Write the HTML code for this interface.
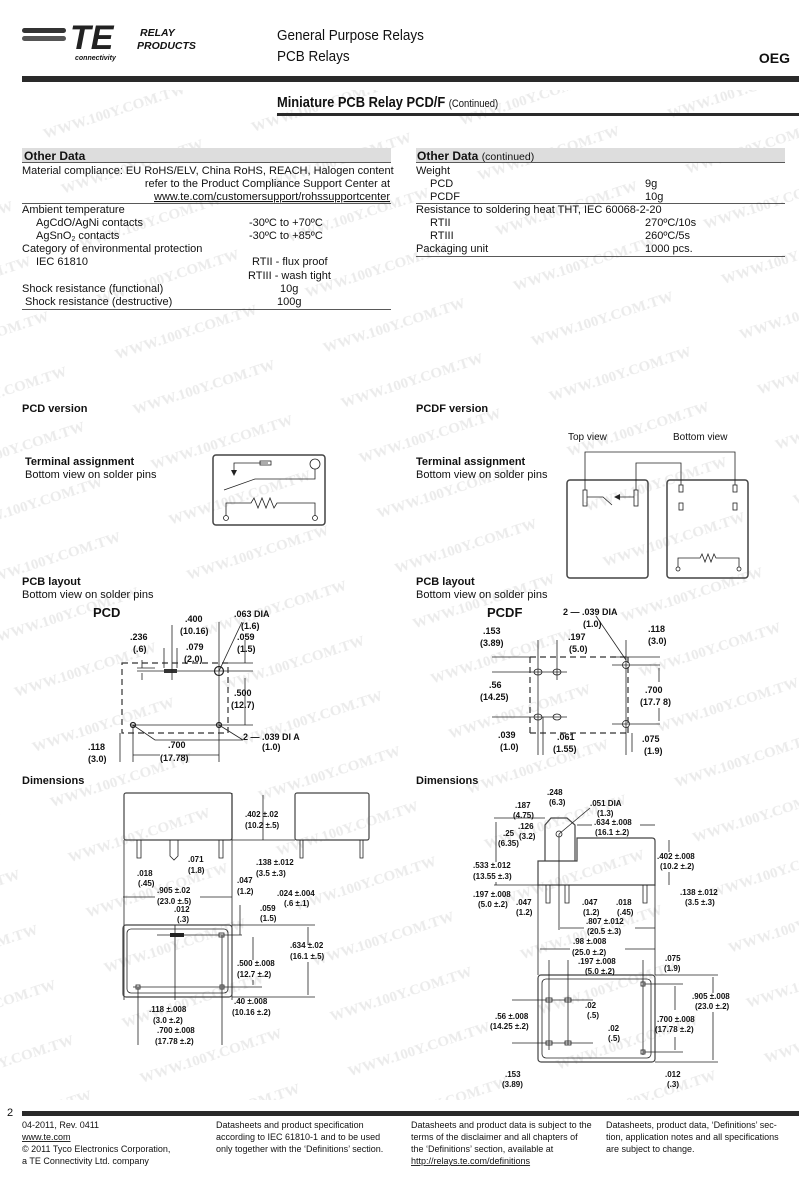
<!DOCTYPE html>
<html><head><meta charset="utf-8"><style>
html,body{margin:0;padding:0;background:#fff}
svg{display:block}
text{font-family:"Liberation Sans",Arial,sans-serif;fill:#111}
.t{font-size:11px}
.b{font-weight:bold}
.d{font-size:8px;font-weight:bold}
.f{font-size:9px}
.ln{stroke:#222;stroke-width:0.8;fill:none}
.dash{stroke:#333;stroke-width:1.2;fill:none;stroke-dasharray:6 4}
.box{stroke:#444;stroke-width:1.5;fill:none}
</style></head><body>
<svg width="799" height="1184" viewBox="0 0 799 1184" xmlns="http://www.w3.org/2000/svg">
<defs>
<pattern id="wm" width="200" height="58" patternUnits="userSpaceOnUse" patternTransform="rotate(-18)">
<text x="0" y="30" style="font-family:'Liberation Serif',serif;font-weight:bold;font-size:15px;fill:#ebebeb">WWW.100Y.COM.TW</text>
</pattern>
</defs>
<rect x="0" y="90" width="799" height="1010" fill="url(#wm)"/>

<rect x="22" y="28" width="44" height="5" rx="2.5" fill="#333"/>
<rect x="22" y="36" width="44" height="5" rx="2.5" fill="#555"/>
<text x="70" y="49" style="font-size:34px;font-weight:bold;font-style:italic;fill:#222">TE</text>
<text x="75" y="60" style="font-size:7px;font-weight:bold;font-style:italic">connectivity</text>
<text x="140" y="36" style="font-size:10.5px;font-weight:bold;font-style:italic">RELAY</text>
<text x="137" y="49" style="font-size:10.5px;font-weight:bold;font-style:italic">PRODUCTS</text>
<text x="277" y="40" style="font-size:15px" transform="translate(277,0) scale(0.9,1) translate(-277,0)">General Purpose Relays</text>
<text x="277" y="61" style="font-size:15px" transform="translate(277,0) scale(0.9,1) translate(-277,0)">PCB Relays</text>
<text x="790" y="63" text-anchor="end" style="font-size:14px;font-weight:bold">OEG</text>
<rect x="22" y="76" width="777" height="6" fill="#2a2a2a"/>
<text x="277" y="107" style="font-size:15px;font-weight:bold" transform="translate(277,0) scale(0.86,1) translate(-277,0)">Miniature PCB Relay PCD/F <tspan style="font-size:11px;font-weight:normal">(Continued)</tspan></text>
<rect x="277" y="113" width="522" height="3" fill="#2a2a2a"/>

<rect x="22" y="148" width="369" height="14" fill="#ddd"/>
<text x="24" y="160" class="b" style="font-size:12px">Other Data</text>
<line x1="22" y1="162.5" x2="391" y2="162.5" class="ln"/>
<text x="22" y="174" class="t">Material compliance: EU RoHS/ELV, China RoHS, REACH, Halogen content</text>
<text x="390" y="187" class="t" text-anchor="end">refer to the Product Compliance Support Center at</text>
<text x="390" y="200" class="t" text-anchor="end" text-decoration="underline">www.te.com/customersupport/rohssupportcenter</text>
<line x1="22" y1="203.5" x2="391" y2="203.5" class="ln"/>
<text x="22" y="213" class="t">Ambient temperature</text>
<text x="36" y="226" class="t">AgCdO/AgNi contacts</text><text x="249" y="226" class="t">-30ºC to +70ºC</text>
<text x="36" y="239" class="t">AgSnO<tspan font-size="7" dy="2">2</tspan><tspan dy="-2"> contacts</tspan></text><text x="249" y="239" class="t">-30ºC to +85ºC</text>
<text x="22" y="252" class="t">Category of environmental protection</text>
<text x="36" y="265" class="t">IEC 61810</text><text x="252" y="265" class="t">RTII - flux proof</text>
<text x="248" y="279" class="t">RTIII - wash tight</text>
<text x="22" y="292" class="t">Shock resistance (functional)</text><text x="280" y="292" class="t">10g</text>
<text x="25" y="305" class="t">Shock resistance (destructive)</text><text x="277" y="305" class="t">100g</text>
<line x1="22" y1="309.5" x2="391" y2="309.5" class="ln"/>

<rect x="416" y="148" width="369" height="14" fill="#ddd"/>
<text x="417" y="160" class="b" style="font-size:12px">Other Data <tspan style="font-size:10.5px;font-weight:normal">(continued)</tspan></text>
<line x1="416" y1="162.5" x2="785" y2="162.5" class="ln"/>
<text x="416" y="174" class="t">Weight</text>
<text x="430" y="187" class="t">PCD</text><text x="645" y="187" class="t">9g</text>
<text x="430" y="200" class="t">PCDF</text><text x="645" y="200" class="t">10g</text>
<line x1="416" y1="203.5" x2="785" y2="203.5" class="ln"/>
<text x="416" y="213" class="t">Resistance to soldering heat  THT, IEC 60068-2-20</text>
<text x="430" y="226" class="t">RTII</text><text x="645" y="226" class="t">270ºC/10s</text>
<text x="430" y="239" class="t">RTIII</text><text x="645" y="239" class="t">260ºC/5s</text>
<text x="416" y="252" class="t">Packaging unit</text><text x="645" y="252" class="t">1000 pcs.</text>
<line x1="416" y1="256.5" x2="785" y2="256.5" class="ln"/>

<text x="22" y="412" class="t b">PCD version</text>
<text x="416" y="412" class="t b">PCDF version</text>
<text x="25" y="465" class="t b">Terminal assignment</text>
<text x="25" y="478" class="t">Bottom view on solder pins</text>
<text x="416" y="465" class="t b">Terminal assignment</text>
<text x="416" y="478" class="t">Bottom view on solder pins</text>

<rect x="213" y="455" width="112" height="70" rx="3" class="box"/>
<path d="M268 463 H234 V472" class="ln"/><path d="M231 470 L234 476 L237 470Z" fill="#222"/>
<rect x="260" y="461" width="11" height="4" class="ln"/>
<circle cx="315" cy="464" r="5" class="ln"/>
<path d="M315 469 V479 H255 L224 490" class="ln"/>
<path d="M226 516 V503 H251 l3 -5 l4 10 l4 -10 l4 10 l4 -10 l4 10 l3 -5 H315 V516" class="ln"/>
<circle cx="226" cy="518" r="2.5" class="ln"/><circle cx="315" cy="518" r="2.5" class="ln"/>

<text x="568" y="440" class="t" style="font-size:10px">Top view</text>
<text x="673" y="440" class="t" style="font-size:10px">Bottom view</text>
<rect x="567" y="480" width="81" height="98" rx="3" class="box"/>
<rect x="667" y="480" width="81" height="98" rx="3" class="box"/>
<path d="M585 490 V452 H735 V485" class="ln"/>
<path d="M636 490 V463 H681 V485" class="ln"/>
<rect x="583" y="490" width="4" height="16" class="ln"/><rect x="634" y="490" width="4" height="16" class="ln"/>
<path d="M587 497 H603 L612 505" class="ln"/><path d="M634 497 H616" class="ln"/><path d="M620 494 L614 497 L620 500Z" fill="#222"/>
<rect x="679" y="485" width="4" height="7" class="ln"/><rect x="679" y="503" width="4" height="7" class="ln"/>
<rect x="733" y="485" width="4" height="7" class="ln"/><rect x="733" y="503" width="4" height="7" class="ln"/>
<path d="M678 567 V558 H700 l2 -4 l3 8 l3 -8 l3 8 l3 -8 l2 4 H739 V567" class="ln"/>
<circle cx="678" cy="569" r="2" class="ln"/><circle cx="739" cy="569" r="2" class="ln"/>

<text x="22" y="585" class="t b">PCB layout</text>
<text x="22" y="598" class="t">Bottom view on solder pins</text>
<text x="416" y="585" class="t b">PCB layout</text>
<text x="416" y="598" class="t">Bottom view on solder pins</text>

<text x="93" y="617" style="font-size:13px;font-weight:bold">PCD</text>
<rect x="122" y="663" width="106" height="70" class="dash"/>
<line x1="137" y1="671" x2="253" y2="671" class="ln"/>
<rect x="164" y="669" width="13" height="4" fill="#333"/>
<circle cx="219" cy="671" r="4.5" class="ln" style="stroke-width:1.2"/>
<line x1="130" y1="725" x2="253" y2="725" class="ln"/>
<circle cx="133" cy="725" r="2.5" class="ln" style="stroke-width:1.2"/><circle cx="219" cy="725" r="2.5" class="ln" style="stroke-width:1.2"/>
<line x1="219" y1="622" x2="219" y2="762" class="ln"/>
<line x1="172" y1="625" x2="172" y2="680" class="ln"/>
<line x1="164" y1="648" x2="164" y2="668" class="ln"/><line x1="177" y1="648" x2="177" y2="668" class="ln"/>
<line x1="133" y1="725" x2="133" y2="762" class="ln"/><line x1="120" y1="733" x2="120" y2="762" class="ln"/>
<line x1="228" y1="663" x2="253" y2="663" class="ln"/>
<line x1="245" y1="640" x2="245" y2="663" class="ln"/><line x1="245" y1="678" x2="245" y2="725" class="ln"/>
<line x1="137" y1="668" x2="155" y2="668" class="ln"/><line x1="142" y1="660" x2="142" y2="668" class="ln"/><line x1="142" y1="673" x2="142" y2="680" class="ln"/>
<line x1="219" y1="671" x2="242" y2="622" class="ln"/>
<path d="M133 725 L155 740 H243 M219 725 L243 740" class="ln"/>
<line x1="133" y1="755" x2="160" y2="755" class="ln"/><line x1="180" y1="755" x2="219" y2="755" class="ln"/>
<text x="185" y="622" class="d" style="font-size:9px">.400</text><text x="180" y="634" class="d" style="font-size:9px">(10.16)</text>
<text x="234" y="617" class="d" style="font-size:9px">.063 DIA</text><text x="241" y="629" class="d" style="font-size:9px">(1.6)</text>
<text x="237" y="640" class="d" style="font-size:9px">.059</text><text x="237" y="652" class="d" style="font-size:9px">(1.5)</text>
<text x="130" y="640" class="d" style="font-size:9px">.236</text><text x="133" y="652" class="d" style="font-size:9px">(.6)</text>
<text x="186" y="650" class="d" style="font-size:9px">.079</text><text x="184" y="662" class="d" style="font-size:9px">(2.0)</text>
<text x="234" y="696" class="d" style="font-size:9px">.500</text><text x="231" y="708" class="d" style="font-size:9px">(12.7)</text>
<text x="243" y="740" class="d" style="font-size:9px">2 — .039 DI  A</text><text x="262" y="750" class="d" style="font-size:9px">(1.0)</text>
<text x="168" y="748" class="d" style="font-size:9px">.700</text><text x="160" y="761" class="d" style="font-size:9px">(17.78)</text>
<text x="88" y="750" class="d" style="font-size:9px">.118</text><text x="88" y="762" class="d" style="font-size:9px">(3.0)</text>

<text x="487" y="617" style="font-size:13px;font-weight:bold">PCDF</text>
<path d="M530 657 H628 M530 733 H628 M530 657 V733 M628 657 V733" class="dash"/>
<line x1="492" y1="672" x2="567" y2="672" class="ln"/><line x1="492" y1="717" x2="567" y2="717" class="ln"/>
<ellipse cx="538" cy="672" rx="4" ry="3" class="ln"/><ellipse cx="557" cy="672" rx="4" ry="3" class="ln"/>
<ellipse cx="538" cy="717" rx="4" ry="3" class="ln"/><ellipse cx="557" cy="717" rx="4" ry="3" class="ln"/>
<line x1="538" y1="640" x2="538" y2="755" class="ln"/><line x1="557" y1="640" x2="557" y2="680" class="ln"/>
<line x1="492" y1="657" x2="530" y2="657" class="ln"/>
<circle cx="626" cy="665" r="3.5" class="ln"/><circle cx="626" cy="724" r="3.5" class="ln"/>
<line x1="626" y1="640" x2="626" y2="755" class="ln"/>
<line x1="612" y1="657" x2="660" y2="657" class="ln"/><line x1="612" y1="665" x2="660" y2="665" class="ln"/><line x1="612" y1="724" x2="660" y2="724" class="ln"/>
<line x1="659" y1="668" x2="659" y2="682" class="ln"/><line x1="659" y1="708" x2="659" y2="721" class="ln"/>
<line x1="632" y1="733" x2="632" y2="752" class="ln"/>
<line x1="596" y1="616" x2="626" y2="660" class="ln"/>
<line x1="543" y1="717" x2="543" y2="755" class="ln"/>
<text x="563" y="615" class="d" style="font-size:9px">2 — .039 DIA</text><text x="583" y="627" class="d" style="font-size:9px">(1.0)</text>
<text x="483" y="634" class="d" style="font-size:9px">.153</text><text x="480" y="646" class="d" style="font-size:9px">(3.89)</text>
<text x="568" y="640" class="d" style="font-size:9px">.197</text><text x="569" y="652" class="d" style="font-size:9px">(5.0)</text>
<text x="648" y="632" class="d" style="font-size:9px">.118</text><text x="648" y="644" class="d" style="font-size:9px">(3.0)</text>
<text x="489" y="688" class="d" style="font-size:9px">.56</text><text x="480" y="700" class="d" style="font-size:9px">(14.25)</text>
<text x="645" y="693" class="d" style="font-size:9px">.700</text><text x="640" y="705" class="d" style="font-size:9px">(17.7 8)</text>
<text x="498" y="738" class="d" style="font-size:9px">.039</text><text x="500" y="750" class="d" style="font-size:9px">(1.0)</text>
<text x="557" y="740" class="d" style="font-size:9px">.061</text><text x="553" y="752" class="d" style="font-size:9px">(1.55)</text>
<text x="642" y="742" class="d" style="font-size:9px">.075</text><text x="644" y="754" class="d" style="font-size:9px">(1.9)</text>

<text x="22" y="784" class="t b">Dimensions</text>
<text x="416" y="784" class="t b">Dimensions</text>

<rect x="124" y="793" width="108" height="47" rx="2" class="box" style="stroke-width:1.2"/>
<rect x="295" y="793" width="74" height="47" rx="2" class="box" style="stroke-width:1.2"/>
<path d="M137 840 V858 H141 V840 M170 840 V856 L174 860 L178 856 V840 M219 840 V858 H223 V840 M300 840 V858 H303 V840 M360 840 V858 H363 V840" class="ln"/>
<line x1="232" y1="793" x2="232" y2="1000" class="ln"/><line x1="124" y1="840" x2="124" y2="1000" class="ln"/>
<line x1="263" y1="795" x2="263" y2="840" class="ln"/>
<line x1="232" y1="840" x2="295" y2="840" class="ln"/>
<line x1="123" y1="897" x2="155" y2="897" class="ln"/><line x1="200" y1="897" x2="232" y2="897" class="ln"/>
<rect x="123" y="925" width="109" height="72" rx="3" class="box" style="stroke-width:1.2"/>
<rect x="127" y="929" width="101" height="64" rx="4" class="ln"/>
<line x1="157" y1="935" x2="242" y2="935" class="ln"/><rect x="170" y="933" width="14" height="4" fill="#222"/>
<line x1="133" y1="987" x2="262" y2="987" class="ln"/>
<rect x="136" y="985" width="4" height="4" class="ln"/><rect x="220" y="985" width="4" height="4" class="ln"/><rect x="219" y="933" width="5" height="4" class="ln"/>
<line x1="138" y1="987" x2="138" y2="1045" class="ln"/><line x1="222" y1="935" x2="222" y2="1045" class="ln"/><line x1="175" y1="925" x2="175" y2="1000" class="ln"/>
<line x1="232" y1="925" x2="315" y2="925" class="ln"/><line x1="232" y1="997" x2="315" y2="997" class="ln"/>
<line x1="308" y1="927" x2="308" y2="945" class="ln"/><line x1="308" y1="962" x2="308" y2="995" class="ln"/>
<line x1="253" y1="937" x2="253" y2="960" class="ln"/><line x1="253" y1="980" x2="253" y2="985" class="ln"/>
<line x1="240" y1="905" x2="240" y2="935" class="ln"/>
<text x="245" y="817" class="d">.402 ±.02</text><text x="245" y="828" class="d">(10.2 ±.5)</text>
<text x="188" y="862" class="d">.071</text><text x="188" y="873" class="d">(1.8)</text>
<text x="137" y="876" class="d">.018</text><text x="138" y="886" class="d">(.45)</text>
<text x="256" y="865" class="d">.138 ±.012</text><text x="256" y="876" class="d">(3.5 ±.3)</text>
<text x="237" y="883" class="d">.047</text><text x="237" y="894" class="d">(1.2)</text>
<text x="157" y="893" class="d">.905 ±.02</text><text x="157" y="904" class="d">(23.0 ±.5)</text>
<text x="277" y="896" class="d">.024 ±.004</text><text x="284" y="906" class="d">(.6 ±.1)</text>
<text x="174" y="912" class="d">.012</text><text x="177" y="922" class="d">(.3)</text>
<text x="260" y="911" class="d">.059</text><text x="260" y="921" class="d">(1.5)</text>
<text x="290" y="948" class="d">.634 ±.02</text><text x="290" y="959" class="d">(16.1 ±.5)</text>
<text x="237" y="966" class="d">.500 ±.008</text><text x="237" y="977" class="d">(12.7 ±.2)</text>
<text x="149" y="1012" class="d">.118 ±.008</text><text x="153" y="1023" class="d">(3.0 ±.2)</text>
<text x="234" y="1004" class="d">.40 ±.008</text><text x="232" y="1015" class="d">(10.16 ±.2)</text>
<text x="157" y="1033" class="d">.700 ±.008</text><text x="155" y="1044" class="d">(17.78 ±.2)</text>

<path d="M545 861 V825 L551 818 H567 L575 825 V861" class="box" style="stroke-width:1.2"/>
<path d="M538 861 H577 V838 H652 Q655 838 655 841 V885 H538 Z" class="box" style="stroke-width:1.2"/>
<circle cx="559" cy="834" r="3" class="ln"/>
<path d="M546 885 V903 H550 V885 M565 885 V903 H569 V885 M643 885 V903 H647 V885" class="ln"/>
<line x1="559" y1="834" x2="559" y2="930" class="ln"/><line x1="538" y1="885" x2="538" y2="975" class="ln"/><line x1="655" y1="885" x2="655" y2="975" class="ln"/>
<line x1="559" y1="834" x2="590" y2="808" class="ln"/>
<line x1="494" y1="818" x2="545" y2="818" class="ln"/><line x1="494" y1="885" x2="538" y2="885" class="ln"/>
<line x1="496" y1="822" x2="496" y2="862" class="ln"/><line x1="496" y1="882" x2="496" y2="885" class="ln"/>
<line x1="577" y1="825" x2="592" y2="825" class="ln"/><line x1="640" y1="825" x2="655" y2="825" class="ln"/>
<line x1="669" y1="840" x2="669" y2="852" class="ln"/><line x1="669" y1="872" x2="669" y2="885" class="ln"/>
<line x1="540" y1="949" x2="570" y2="949" class="ln"/><line x1="625" y1="949" x2="655" y2="949" class="ln"/>
<line x1="560" y1="928" x2="584" y2="928" class="ln"/><line x1="635" y1="928" x2="655" y2="928" class="ln"/>
<rect x="538" y="975" width="117" height="87" rx="3" class="box" style="stroke-width:1.2"/>
<rect x="542" y="979" width="109" height="79" rx="4" class="ln"/>
<line x1="512" y1="1000" x2="593" y2="1000" class="ln"/><line x1="512" y1="1043" x2="593" y2="1043" class="ln"/>
<rect x="546" y="998" width="6" height="4" class="ln"/><rect x="565" y="998" width="6" height="4" class="ln"/>
<rect x="546" y="1041" width="6" height="4" class="ln"/><rect x="565" y="1041" width="6" height="4" class="ln"/>
<rect x="641" y="982" width="4" height="4" class="ln"/><rect x="641" y="1050" width="4" height="4" class="ln"/>
<line x1="549" y1="960" x2="549" y2="1050" class="ln"/><line x1="568" y1="960" x2="568" y2="1045" class="ln"/><line x1="643" y1="960" x2="643" y2="1055" class="ln"/>
<line x1="643" y1="984" x2="683" y2="984" class="ln"/><line x1="643" y1="1052" x2="683" y2="1052" class="ln"/>
<line x1="675" y1="986" x2="675" y2="1010" class="ln"/><line x1="675" y1="1037" x2="675" y2="1050" class="ln"/>
<line x1="655" y1="975" x2="718" y2="975" class="ln"/><line x1="655" y1="1062" x2="718" y2="1062" class="ln"/>
<line x1="713" y1="977" x2="713" y2="993" class="ln"/><line x1="713" y1="1012" x2="713" y2="1060" class="ln"/>
<text x="547" y="795" class="d">.248</text><text x="549" y="805" class="d">(6.3)</text>
<text x="515" y="808" class="d">.187</text><text x="513" y="818" class="d">(4.75)</text>
<text x="590" y="806" class="d">.051 DIA</text><text x="597" y="816" class="d">(1.3)</text>
<text x="518" y="829" class="d">.126</text><text x="519" y="839" class="d">(3.2)</text>
<text x="503" y="836" class="d">.25</text><text x="498" y="846" class="d">(6.35)</text>
<text x="594" y="825" class="d">.634 ±.008</text><text x="595" y="835" class="d">(16.1 ±.2)</text>
<text x="657" y="859" class="d">.402 ±.008</text><text x="660" y="869" class="d">(10.2 ±.2)</text>
<text x="473" y="868" class="d">.533 ±.012</text><text x="473" y="879" class="d">(13.55 ±.3)</text>
<text x="473" y="897" class="d">.197 ±.008</text><text x="478" y="907" class="d">(5.0 ±.2)</text>
<text x="516" y="905" class="d">.047</text><text x="516" y="915" class="d">(1.2)</text>
<text x="582" y="905" class="d">.047</text><text x="583" y="915" class="d">(1.2)</text>
<text x="616" y="905" class="d">.018</text><text x="617" y="915" class="d">(.45)</text>
<text x="680" y="895" class="d">.138 ±.012</text><text x="685" y="905" class="d">(3.5 ±.3)</text>
<text x="586" y="924" class="d">.807 ±.012</text><text x="587" y="934" class="d">(20.5 ±.3)</text>
<text x="573" y="944" class="d">.98 ±.008</text><text x="572" y="955" class="d">(25.0 ±.2)</text>
<text x="578" y="964" class="d">.197 ±.008</text><text x="585" y="974" class="d">(5.0 ±.2)</text>
<text x="665" y="961" class="d">.075</text><text x="664" y="971" class="d">(1.9)</text>
<text x="692" y="999" class="d">.905 ±.008</text><text x="695" y="1009" class="d">(23.0 ±.2)</text>
<text x="495" y="1019" class="d">.56 ±.008</text><text x="490" y="1029" class="d">(14.25 ±.2)</text>
<text x="585" y="1008" class="d">.02</text><text x="587" y="1018" class="d">(.5)</text>
<text x="608" y="1031" class="d">.02</text><text x="608" y="1041" class="d">(.5)</text>
<text x="657" y="1022" class="d">.700 ±.008</text><text x="655" y="1032" class="d">(17.78 ±.2)</text>
<text x="505" y="1077" class="d">.153</text><text x="502" y="1087" class="d">(3.89)</text>
<text x="665" y="1077" class="d">.012</text><text x="667" y="1087" class="d">(.3)</text>

<text x="7" y="1116" style="font-size:11px">2</text>
<rect x="22" y="1111" width="777" height="5" fill="#2a2a2a"/>
<text x="22" y="1128" class="f">04-2011, Rev. 0411</text>
<text x="22" y="1140" class="f" text-decoration="underline">www.te.com</text>
<text x="22" y="1152" class="f">© 2011 Tyco Electronics Corporation,</text>
<text x="22" y="1164" class="f">a TE Connectivity Ltd. company</text>
<text x="216" y="1128" class="f">Datasheets and product specification</text>
<text x="216" y="1140" class="f">according to IEC 61810-1 and to be used</text>
<text x="216" y="1152" class="f">only together with the ‘Definitions’ section.</text>
<text x="411" y="1128" class="f">Datasheets and product data is subject to the</text>
<text x="411" y="1140" class="f">terms of the disclaimer and all chapters of</text>
<text x="411" y="1152" class="f">the ‘Definitions’ section, available at</text>
<text x="411" y="1164" class="f" text-decoration="underline">http://relays.te.com/definitions</text>
<text x="606" y="1128" class="f">Datasheets, product data, ‘Definitions’ sec-</text>
<text x="606" y="1140" class="f">tion, application notes and all specifications</text>
<text x="606" y="1152" class="f">are subject to change.</text>
</svg>
</body></html>
